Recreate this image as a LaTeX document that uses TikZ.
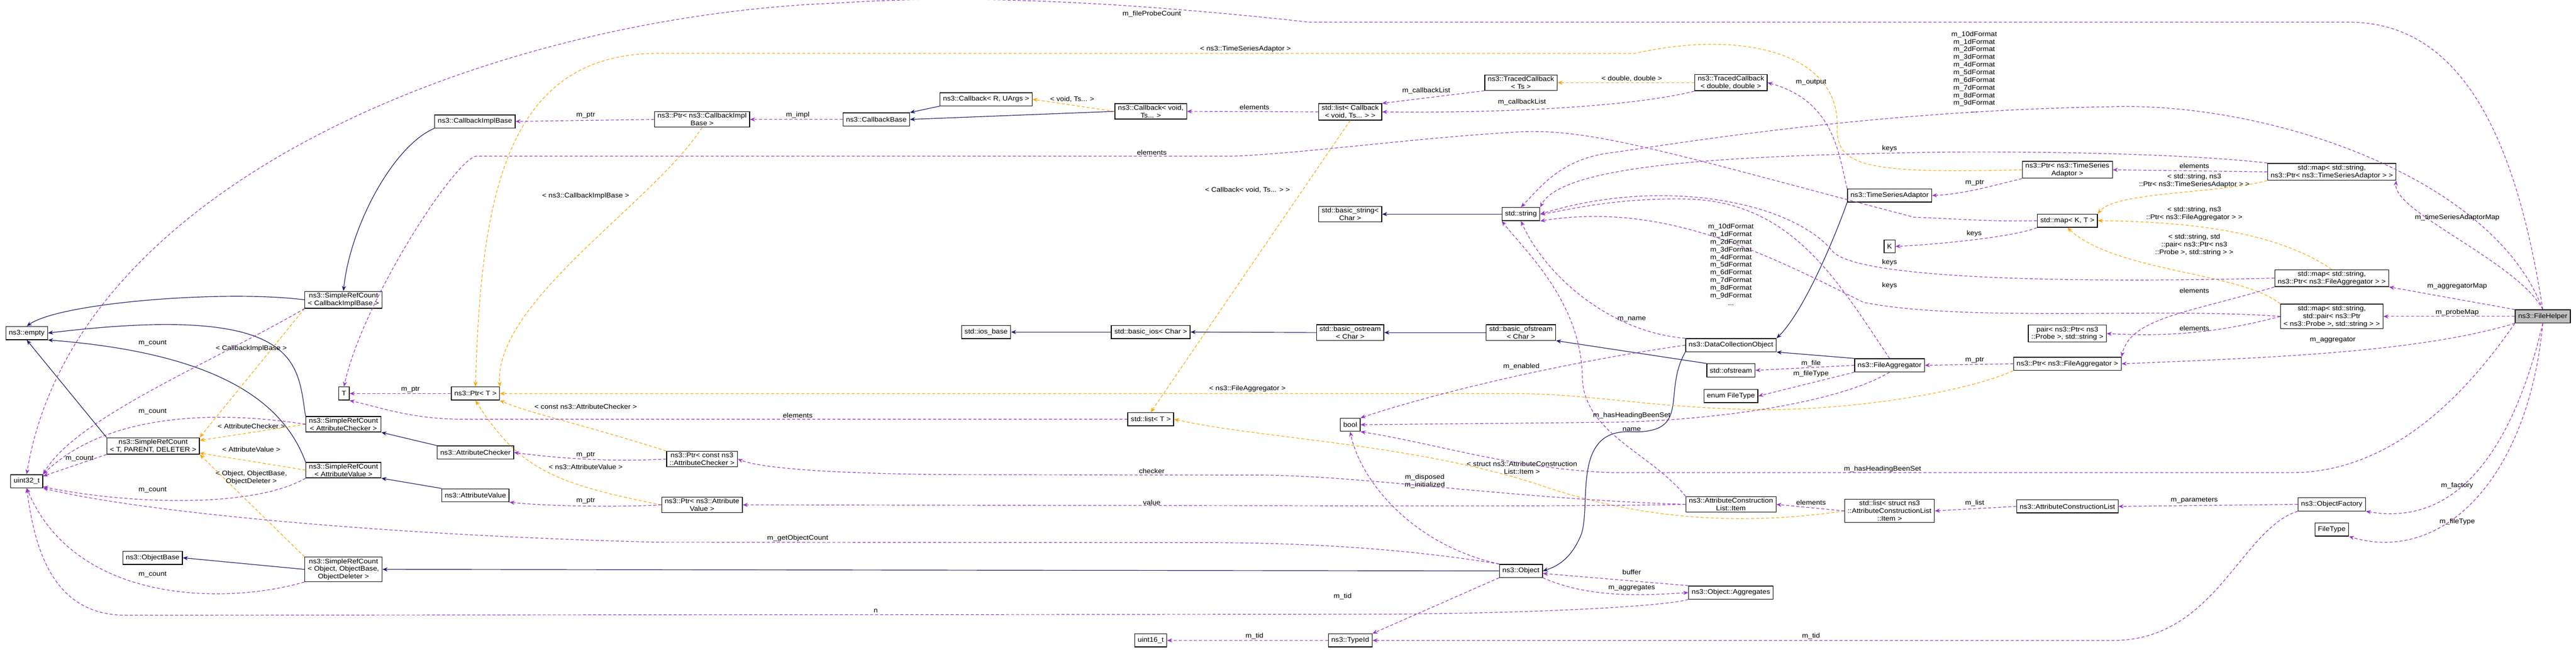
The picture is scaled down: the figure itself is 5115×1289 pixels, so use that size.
\documentclass[tikz,border=0pt]{standalone}
\usepackage{fontspec}
\setmainfont{Liberation Sans}[FakeStretch=1.1]
\usetikzlibrary{arrows.meta}
\definecolor{pu}{HTML}{9A32CD}
\definecolor{nv}{HTML}{191970}
\definecolor{og}{HTML}{FFA500}
\begin{document}
\begin{tikzpicture}[x=0.5pt,y=-0.5pt,
  every node/.style={font=\fontsize{6.6}{7.6}\selectfont},
  box/.style={draw=black,line width=0.7pt,fill=white,inner xsep=3pt,inner ysep=1.5pt,minimum height=13pt,align=center},
  lbl/.style={inner sep=0.5pt,align=center},
  inh/.style={draw=nv,line width=0.6pt,-{Stealth[length=5pt,width=4pt]}},
  use/.style={draw=pu,line width=0.6pt,dash pattern=on 3pt off 2pt,-{Stealth[length=5pt,width=4pt]}},
  tmpl/.style={draw=og,line width=0.6pt,dash pattern=on 3pt off 2pt,-{Stealth[length=5pt,width=4pt]}}]
\useasboundingbox (0,0) rectangle (5115,1289);
% nodes
\node[box] (empty) at (53,661) {ns3::empty};
\node[box] (u32) at (53,955) {uint32\_t};
\node[box] (srcT) at (304,885) {ns3::SimpleRefCount\\{}< T, PARENT, DELETER >};
\node[box] (srcCIB) at (682,595) {ns3::SimpleRefCount\\{}< CallbackImplBase >};
\node[box] (srcAC) at (682,842) {ns3::SimpleRefCount\\{}< AttributeChecker >};
\node[box] (srcAV) at (682,933) {ns3::SimpleRefCount\\{}< AttributeValue >};
\node[box] (objbase) at (303,1107) {ns3::ObjectBase};
\node[box] (srcObj) at (682,1130) {ns3::SimpleRefCount\\{}< Object, ObjectBase,\\ObjectDeleter >};
\node[box] (T) at (683,781) {T};
\node[box] (ptrT) at (944,781) {ns3::Ptr< T >};
\node[box] (cib) at (943,241) {ns3::CallbackImplBase};
\node[box] (ac) at (944,898) {ns3::AttributeChecker};
\node[box] (av) at (944,983) {ns3::AttributeValue};
\node[box] (ptrCIB) at (1394,237) {ns3::Ptr< ns3::CallbackImpl\\Base >};
\node[box] (ptrAC) at (1394,911) {ns3::Ptr< const ns3\\::AttributeChecker >};
\node[box] (ptrAV) at (1394,1002) {ns3::Ptr< ns3::Attribute\\Value >};
\node[box] (cbBase) at (1740,237) {ns3::CallbackBase};
\node[box] (cbR) at (1958,197) {ns3::Callback< R, UArgs >};
\node[box] (cbVoid) at (2285,221) {ns3::Callback< void,\\Ts... >};
\node[box] (iosbase) at (1958,659) {std::ios\_base};
\node[box] (basicios) at (2285,659) {std::basic\_ios< Char >};
\node[box] (listT) at (2285,832) {std::list< T >};
\node[box] (u16) at (2285,1271) {uint16\_t};
\node[box] (listCb) at (2681,222) {std::list< Callback\\{}< void, Ts... > >};
\node[box] (bstring) at (2681,425) {std::basic\_string<\\Char >};
\node[box] (bostream) at (2681,660) {std::basic\_ostream\\{}< Char >};
\node[box] (bool) at (2681,843) {bool};
\node[box] (typeid) at (2681,1271) {ns3::TypeId};
\node[box] (tcTs) at (3020,164) {ns3::TracedCallback\\{}< Ts >};
\node[box] (string) at (3020,425) {std::string};
\node[box] (bofstream) at (3020,660) {std::basic\_ofstream\\{}< Char >};
\node[box] (object) at (3020,1133) {ns3::Object};
\node[box] (tcDD) at (3437,164) {ns3::TracedCallback\\{}< double, double >};
\node[box] (dco) at (3437,685) {ns3::DataCollectionObject};
\node[box] (ofstream) at (3437,735) {std::ofstream};
\node[box] (enumFT) at (3437,786) {enum FileType};
\node[box] (item) at (3437,1001) {ns3::AttributeConstruction\\List::Item};
\node[box] (aggr) at (3437,1176) {ns3::Object::Aggregates};
\node[box] (tsa) at (3752,388) {ns3::TimeSeriesAdaptor};
\node[box] (K) at (3752,489) {K};
\node[box] (fagg) at (3752,725) {ns3::FileAggregator};
\node[box] (listItem) at (3752,1014) {std::list< struct ns3\\::AttributeConstructionList\\::Item >};
\node[box] (ptrTSA) at (4105,337) {ns3::Ptr< ns3::TimeSeries\\Adaptor >};
\node[box] (mapKT) at (4105,438) {std::map< K, T >};
\node[box] (pair) at (4105,662) {pair< ns3::Ptr< ns3\\::Probe >, std::string >};
\node[box] (ptrFA) at (4105,722) {ns3::Ptr< ns3::FileAggregator >};
\node[box] (acl) at (4105,1005) {ns3::AttributeConstructionList};
\node[box] (mapTSA) at (4630,341) {std::map< std::string,\\ns3::Ptr< ns3::TimeSeriesAdaptor > >};
\node[box] (mapFA) at (4630,552) {std::map< std::string,\\ns3::Ptr< ns3::FileAggregator > >};
\node[box] (mapPair) at (4630,628) {std::map< std::string,\\std::pair< ns3::Ptr\\{}< ns3::Probe >, std::string > >};
\node[box] (of) at (4630,1001) {ns3::ObjectFactory};
\node[box] (ftype) at (4630,1051) {FileType};
\node[box,fill=black!25] (fh) at (5049,628) {ns3::FileHelper};
% inheritance
\draw[inh] (srcCIB.west) .. controls (450,575) and (120,600) .. (empty.north);
\draw[inh] (srcAC.north west) .. controls (590,720) and (600,600) .. (empty.east);
\draw[inh] (srcAV.north west) .. controls (560,790) and (420,700) .. (empty.south east);
\draw[inh] (srcT.north west) -- (empty.south);
\draw[inh] (cib.south west) .. controls (780,290) and (695,450) .. (srcCIB.north);
\draw[inh] (ac.north west) -- (srcAC.south east);
\draw[inh] (av.north west) -- (srcAV.south east);
\draw[inh] (srcObj.west) -- (objbase.east);
\draw[inh] (object.west) -- (srcObj.east);
\draw[inh] (cbR.south west) -- (cbBase.north east);
\draw[inh] (cbVoid.west) -- (cbBase.east);
\draw[inh] (basicios.west) -- (iosbase.east);
\draw[inh] (bostream.west) -- (basicios.east);
\draw[inh] (bofstream.west) -- (bostream.east);
\draw[inh] (ofstream.north west) -- (bofstream.south east);
\draw[inh] (string.west) -- (bstring.east);
\draw[inh] (tsa.south west) .. controls (3640,480) and (3580,620) .. (dco.north east);
\draw[inh] (fagg.north west) -- (dco.south east);
\draw[inh] (dco.south west) .. controls (3300,780) and (3360,860) .. (3240,857) .. controls (3120,850) and (3160,1000) .. (3140,1060) .. controls (3120,1110) and (3090,1125) .. (object.east);
% templates
\draw[tmpl] (srcCIB.south west) -- (srcT.north east) node[lbl,pos=0.35] (t1) {};
\node[lbl] (lt1) at (499,692) {< CallbackImplBase >};
\draw[tmpl] (srcAC.west) -- (srcT.east |- 874,874);
\node[lbl] (lt2) at (499,846) {< AttributeChecker >};
\draw[tmpl] (srcAV.west) -- (srcT.east |- 899,899);
\node[lbl] (lt3) at (499,892) {< AttributeValue >};
\draw[tmpl] (srcObj.north west) -- (srcT.south east);
\node[lbl] (lt4) at (499,948) {< Object, ObjectBase,\\ObjectDeleter >};
\draw[tmpl] (ptrCIB.south) .. controls (1300,400) and (980,600) .. (ptrT.north east);
\node[lbl] (lt5) at (1163,389) {< ns3::CallbackImplBase >};
\draw[tmpl] (ptrTSA.west) .. controls (3700,345) and (3645,330) .. (3648,250) .. controls (3650,100) and (3450,60) .. (3246,106) -- (1300,106) .. controls (1000,110) and (955,400) .. (ptrT.north);
\node[lbl] (lt6) at (2473,97) {< ns3::TimeSeriesAdaptor >};
\draw[tmpl] (ptrFA.south west) .. controls (3900,780) and (3650,820) .. (3450,812) .. controls (3250,805) and (3150,781) .. (3000,781) -- (ptrT.east);
\node[lbl] (lt7) at (2477,772) {< ns3::FileAggregator >};
\draw[tmpl] (ptrAC.north west) .. controls (1150,840) and (1050,820) .. (ptrT.south east);
\node[lbl] (lt8) at (1163,807) {< const ns3::AttributeChecker >};
\draw[tmpl] (ptrAV.west) .. controls (1100,960) and (1030,930) .. (ptrT.south);
\node[lbl] (lt9) at (1163,927) {< ns3::AttributeValue >};
\draw[tmpl] (cbVoid.west) -- (cbR.east);
\node[lbl] (lt10) at (2129,197) {< void, Ts... >};
\draw[tmpl] (tcDD.west) -- (tcTs.east);
\node[lbl] (lt11) at (3240,156) {< double, double >};
\draw[tmpl] (listCb.south) -- (listT.north);
\node[lbl] (lt12) at (2477,377) {< Callback< void, Ts... > >};
\draw[tmpl] (listItem.west) .. controls (3450,1045) and (3250,1030) .. (3050,960) .. controls (2800,880) and (2500,870) .. (listT.east);
\node[lbl] (lt13) at (3022,928) {< struct ns3::AttributeConstruction\\List::Item >};
\draw[tmpl] (mapTSA.south west) .. controls (4400,385) and (4200,380) .. (mapKT.north east);
\node[lbl] (lt14) at (4357,359) {< std::string, ns3\\::Ptr< ns3::TimeSeriesAdaptor > >};
\draw[tmpl] (mapFA.north) .. controls (4520,460) and (4350,440) .. (mapKT.east);
\node[lbl] (lt15) at (4357,424) {< std::string, ns3\\::Ptr< ns3::FileAggregator > >};
\draw[tmpl] (mapPair.north west) .. controls (4450,540) and (4200,540) .. (mapKT.south);
\node[lbl] (lt16) at (4357,486) {< std::string, std\\::pair< ns3::Ptr< ns3\\::Probe >, std::string > >};
% uses
\draw[use] (srcCIB.south west) .. controls (420,720) and (150,830) .. (u32.north east);
\node[lbl] (l1) at (303,681) {m\_count};
\draw[use] (srcAC.west) .. controls (400,810) and (200,830) .. (u32.north east);
\node[lbl] (l2) at (303,817) {m\_count};
\draw[use] (srcT.south west) -- (u32.east |- 945,945);
\node[lbl] (l3) at (158,910) {m\_count};
\draw[use] (srcAV.south west) .. controls (500,1010) and (250,1000) .. (u32.east |- 966,966);
\node[lbl] (l4) at (303,972) {m\_count};
\draw[use] (srcObj.south west) .. controls (450,1200) and (150,1200) .. (u32.south);
\node[lbl] (l5) at (303,1140) {m\_count};
\draw[use] (fh.north) .. controls (5000,300) and (4900,44) .. (4664,44) -- (2600,44) .. controls (2200,0) and (1900,-10) .. (1665,6) .. controls (1000,30) and (150,350) .. (u32.north);
\node[lbl] (l6) at (2287,28) {m\_fileProbeCount};
\draw[use] (object.north west) .. controls (2800,1090) and (2600,1077) .. (2400,1077) -- (1300,1076) .. controls (700,1060) and (250,1010) .. (u32.south east);
\node[lbl] (l7) at (1584,1068) {m\_getObjectCount};
\draw[use] (aggr.south west) .. controls (3300,1205) and (3000,1219) .. (2700,1219) -- (250,1221) .. controls (110,1221) and (70,1100) .. (u32.south);
\node[lbl] (l8) at (1739,1212) {n};
\draw[use] (ptrCIB.west) -- (cib.east);
\node[lbl] (l9) at (1163,229) {m\_ptr};
\draw[use] (cbBase.west) -- (ptrCIB.east);
\node[lbl] (l10) at (1584,228) {m\_impl};
\draw[use] (listCb.west) -- (cbVoid.east);
\node[lbl] (l11) at (2491,213) {elements};
\draw[use] (tcTs.south west) -- (listCb.north east);
\node[lbl] (l12) at (2832,180) {m\_callbackList};
\draw[use] (tcDD.south west) .. controls (3250,210) and (3000,225) .. (listCb.east);
\node[lbl] (l13) at (3022,203) {m\_callbackList};
\draw[use] (tsa.north west) .. controls (3650,300) and (3640,200) .. (tcDD.east);
\node[lbl] (l14) at (3596,163) {m\_output};
\draw[use] (ptrT.west) -- (T.east);
\node[lbl] (l15) at (815,773) {m\_ptr};
\draw[use] (listT.west) -- (920,832) .. controls (820,832) and (760,810) .. (T.south east);
\node[lbl] (l16) at (1584,824) {elements};
\draw[use] (mapKT.west) .. controls (3950,440) and (3900,435) .. (3800,431) .. controls (3300,300) and (3150,250) .. (2997,263) .. controls (2800,275) and (2600,303) .. (2450,310) -- (945,310) .. controls (900,320) and (720,600) .. (T.north);
\node[lbl] (l17) at (2287,303) {elements};
\draw[use] (mapTSA.north west) .. controls (4300,300) and (3900,300) .. (3800,303) .. controls (3400,310) and (3100,330) .. (string.north east);
\node[lbl] (l18) at (3752,295) {keys};
\draw[use] (mapFA.west) .. controls (4200,560) and (3700,560) .. (3640,500) .. controls (3560,400) and (3300,350) .. (string.east);
\node[lbl] (l19) at (3752,521) {keys};
\draw[use] (mapPair.west) .. controls (4300,610) and (3900,640) .. (3700,600) .. controls (3500,500) and (3300,400) .. (string.south east);
\node[lbl] (l20) at (3752,567) {keys};
\draw[use] (mapKT.south west) .. controls (4000,470) and (3850,485) .. (K.east);
\node[lbl] (l21) at (3920,464) {keys};
\draw[use] (fh.north) .. controls (4950,350) and (4500,200) .. (4185,212) .. controls (3700,220) and (3300,290) .. (3200,303) .. controls (3100,315) and (3060,370) .. (string.north);
\node[lbl] (l22) at (3920,143) {m\_10dFormat\\m\_1dFormat\\m\_2dFormat\\m\_3dFormat\\m\_4dFormat\\m\_5dFormat\\m\_6dFormat\\m\_7dFormat\\m\_8dFormat\\m\_9dFormat\\...};
\draw[use] (fagg.north) .. controls (3650,560) and (3560,400) .. (3350,395) .. controls (3200,392) and (3100,420) .. (string.east);
\node[lbl] (l23) at (3437,525) {m\_10dFormat\\m\_1dFormat\\m\_2dFormat\\m\_3dFormat\\m\_4dFormat\\m\_5dFormat\\m\_6dFormat\\m\_7dFormat\\m\_8dFormat\\m\_9dFormat\\...};
\draw[use] (dco.north west) .. controls (3200,660) and (3070,550) .. (string.south);
\node[lbl] (l24) at (3240,634) {m\_name};
\draw[use] (item.north west) .. controls (3280,900) and (3145,860) .. (3142,750) .. controls (3140,600) and (3030,500) .. (string.south west);
\node[lbl] (l25) at (3240,852) {name};
\draw[use] (fh.south west) .. controls (4850,850) and (4700,938) .. (4550,938) -- (3200,938) .. controls (3000,930) and (2850,880) .. (bool.south east);
\node[lbl] (l26) at (3738,931) {m\_hasHeadingBeenSet};
\draw[use] (fagg.south) .. controls (3650,800) and (3400,835) .. (3200,838) -- (bool.east);
\node[lbl] (l27) at (3240,825) {m\_hasHeadingBeenSet};
\draw[use] (dco.west) .. controls (3100,720) and (2850,780) .. (bool.north east);
\node[lbl] (l28) at (3021,727) {m\_enabled};
\draw[use] (object.north west) .. controls (2800,1080) and (2700,950) .. (bool.south);
\node[lbl] (l29) at (2829,955) {m\_disposed\\m\_initialized};
\draw[use] (item.west) .. controls (3000,990) and (2700,943) .. (2500,943) -- (1900,942) .. controls (1600,940) and (1500,925) .. (ptrAC.east);
\node[lbl] (l30) at (2287,935) {checker};
\draw[use] (item.west) .. controls (3200,1004) and (3000,1004) .. (2800,1004) -- (ptrAV.east);
\node[lbl] (l31) at (2287,997) {value};
\draw[use] (listItem.west) -- (item.east);
\node[lbl] (l32) at (3596,997) {elements};
\draw[use] (acl.west) -- (listItem.east);
\node[lbl] (l33) at (3921,999) {m\_list};
\draw[use] (of.west) -- (acl.east);
\node[lbl] (l34) at (4357,993) {m\_parameters};
\draw[use] (of.south west) .. controls (4450,1050) and (4400,1268) .. (4200,1271) -- (typeid.east);
\node[lbl] (l35) at (3596,1262) {m\_tid};
\draw[use] (object.south west) -- (typeid.north east);
\node[lbl] (l36) at (2666,1184) {m\_tid};
\draw[use] (typeid.west) -- (u16.east);
\node[lbl] (l37) at (2491,1262) {m\_tid};
\draw[use] (aggr.north west) -- (object.east |- 1138,1138);
\node[lbl] (l38) at (3240,1135) {buffer};
\draw[use] (object.south east) .. controls (3150,1185) and (3250,1183) .. (aggr.west);
\node[lbl] (l39) at (3240,1167) {m\_aggregates};
\draw[use] (fagg.west) -- (ofstream.east);
\node[lbl] (l40) at (3596,721) {m\_file};
\draw[use] (fagg.south west) -- (enumFT.east);
\node[lbl] (l41) at (3596,742) {m\_fileType};
\draw[use] (ptrAC.west) .. controls (1250,915) and (1150,915) .. (ac.east);
\node[lbl] (l42) at (1163,903) {m\_ptr};
\draw[use] (ptrAV.west) .. controls (1250,1006) and (1100,1006) .. (av.south east);
\node[lbl] (l43) at (1163,994) {m\_ptr};
\draw[use] (mapTSA.west) -- (ptrTSA.east);
\node[lbl] (l44) at (4357,329) {elements};
\draw[use] (ptrTSA.south west) .. controls (3950,370) and (3900,385) .. (tsa.east);
\node[lbl] (l45) at (3921,363) {m\_ptr};
\draw[use] (mapFA.south west) .. controls (4350,620) and (4230,630) .. (ptrFA.north east);
\node[lbl] (l46) at (4357,577) {elements};
\draw[use] (mapPair.west) .. controls (4400,662) and (4300,668) .. (pair.east);
\node[lbl] (l47) at (4357,652) {elements};
\draw[use] (ptrFA.west) -- (fagg.east);
\node[lbl] (l48) at (3921,715) {m\_ptr};
\draw[use] (fh.south west) .. controls (4800,700) and (4500,710) .. (ptrFA.east);
\node[lbl] (l49) at (4632,675) {m\_aggregator};
\draw[use] (fh.north) .. controls (5000,520) and (4750,420) .. (mapTSA.south east);
\node[lbl] (l50) at (4879,432) {m\_timeSeriesAdaptorMap};
\draw[use] (fh.north west) -- (mapFA.south east);
\node[lbl] (l51) at (4879,568) {m\_aggregatorMap};
\draw[use] (fh.west) -- (mapPair.east);
\node[lbl] (l52) at (4879,620) {m\_probeMap};
\draw[use] (fh.south) .. controls (5000,850) and (4900,1050) .. (of.south east);
\node[lbl] (l53) at (4879,964) {m\_factory};
\draw[use] (fh.south) .. controls (5020,950) and (4850,1120) .. (ftype.south east);
\node[lbl] (l54) at (4879,1035) {m\_fileType};
\end{tikzpicture}
\end{document}
